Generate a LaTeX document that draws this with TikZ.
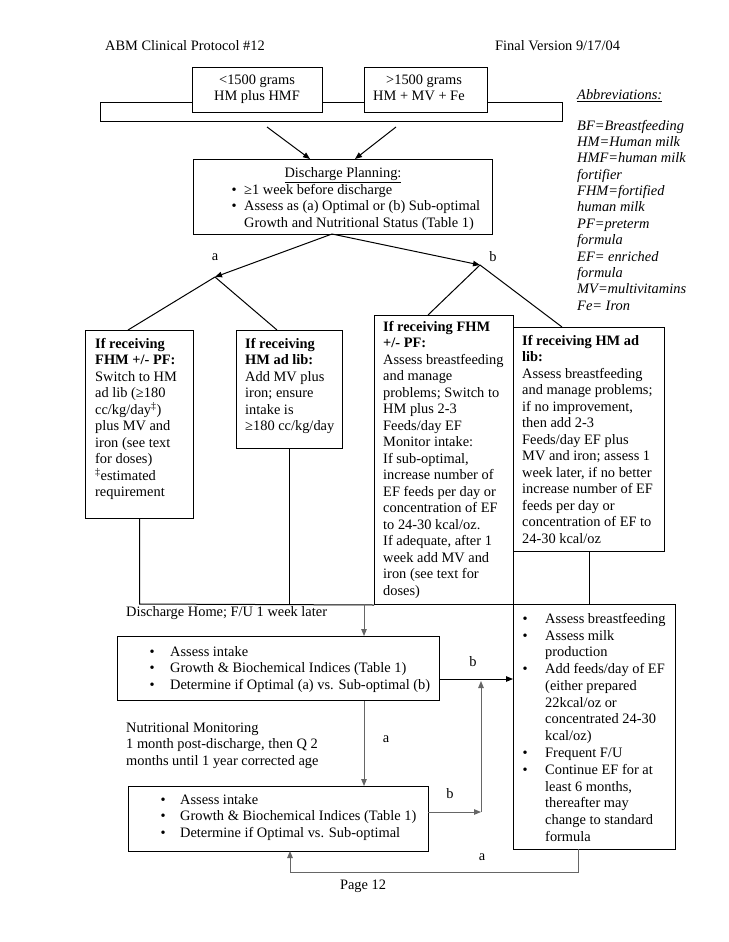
\documentclass[tikz,border=0pt]{standalone}
\usepackage{fontspec}
\setmainfont{Liberation Serif}
\usetikzlibrary{arrows.meta}
\newcommand{\fz}{\fontsize{14.4}{16.5}\selectfont}
\newcommand{\fr}{\rule{0pt}{10pt}}
\newcommand{\bul}[1]{\makebox[#1][l]{•}}
\tikzset{
  box/.style={draw, line width=1pt, fill=white, inner sep=0pt, anchor=north west},
  txt/.style={inner sep=0pt, anchor=north west, align=left, font=\fz},
  lbl/.style={inner sep=0pt, font=\fz},
  ln/.style={line width=1pt},
  arr/.style={-{Triangle[length=7pt,width=5.5pt]}, line width=1pt},
  garr/.style={arr, draw=black!60}
}
\begin{document}
\begin{tikzpicture}[x=1pt,y=-1pt]
\useasboundingbox (0,0) rectangle (728,942);
\fill[white] (0,0) rectangle (728,942);

% header
\node[txt] (h1) at (105,40) {\fr ABM Clinical Protocol \#12};
\node[txt] (h2) at (495,40) {\fr Final Version 9/17/04};

% top frame and weight boxes
\draw[ln] (100,102) rectangle (562,121);
\node[box, minimum width=130pt, minimum height=45pt] (w1) at (192,67) {};
\node[box, minimum width=123pt, minimum height=45pt] (w2) at (364,67) {};
\node[txt, anchor=north, align=center] (w1t) at (257,74) {\fr<1500 grams\\HM plus HMF};
\node[txt] (w2t) at (373,74) {\fr\hspace*{13pt}>1500 grams\\HM + MV + Fe};

% abbreviations
\node[txt, font=\fontsize{14.4}{16.36}\selectfont\itshape] (abb) at (577,89)
 {\fr\underline{Abbreviations:}\\[14.6pt]
  BF=Breastfeeding\\HM=Human milk\\HMF=human milk\\fortifier\\FHM=fortified\\human milk\\PF=preterm\\formula\\EF= enriched\\formula\\MV=multivitamins\\Fe= Iron};

% discharge planning
\coordinate (s1) at (267,127);
\coordinate (s2) at (396,127);
\node[box, minimum width=299pt, minimum height=75pt] (dp) at (193,159) {};
\coordinate (e1) at (310,159);
\coordinate (e2) at (355,159);
\draw[arr] (s1) -- (e1);
\draw[arr] (s2) -- (e2);
\node[lbl, anchor=base] (dpt) at (343,177.5) {\underline{Discharge Planning:}};
\node[txt] (dpb) at (231.5,184) {\fr\bul{12.5pt}≥1 week before discharge\\
  \bul{12.5pt}Assess as (a) Optimal or (b) Sub-optimal\\
  \hspace*{12.5pt}Growth and Nutritional Status (Table 1)};

% branches
\coordinate (dpo) at (332,234);
\coordinate (ta) at (215,277);
\coordinate (tb) at (480,265);
\draw[arr] (dpo) -- (ta);
\draw[arr] (dpo) -- (tb);
\node[lbl] (la) at (215,257) {a};
\node[lbl] (lb) at (493,257) {b};

% four option boxes
\node[box, minimum width=108pt, minimum height=188pt] (b1) at (85,330) {};
\node[box, minimum width=106pt, minimum height=118pt] (b2) at (236,330) {};
\node[box, minimum width=139pt, minimum height=289pt] (b3) at (374,315) {};
\node[box, minimum width=151pt, minimum height=224pt] (b4) at (513,327) {};
\coordinate (b1t) at (128,330);
\coordinate (b2t) at (277,330);
\coordinate (b3t) at (428,315);
\coordinate (b4t) at (562,327);
\draw[ln] (ta) -- (b1t);
\draw[ln] (ta) -- (b2t);
\draw[ln] (tb) -- (b3t);
\draw[ln] (tb) -- (b4t);

\node[txt] (b1x) at (95,338) {\fr\textbf{If receiving}\\\textbf{FHM +/- PF:}\\Switch to HM\\ad lib (≥180\\cc/kg/day\textsuperscript{‡})\\plus MV and\\iron (see text\\for doses)\\\textsuperscript{‡}estimated\\requirement};
\node[txt] (b2x) at (245,338) {\fr\textbf{If receiving}\\\textbf{HM ad lib:}\\Add MV plus\\iron; ensure\\intake is\\≥180 cc/kg/day};
\node[txt] (b3x) at (383,321) {\fr\textbf{If receiving FHM}\\\textbf{+/- PF:}\\Assess breastfeeding\\and manage\\problems; Switch to\\HM plus 2-3\\Feeds/day EF\\Monitor intake:\\If sub-optimal,\\increase number of\\EF feeds per day or\\concentration of EF\\to 24-30 kcal/oz.\\If adequate, after 1\\week add MV and\\iron (see text for\\doses)};
\node[txt] (b4x) at (522,335) {\fr\textbf{If receiving HM ad}\\\textbf{lib:}\\Assess breastfeeding\\and manage problems;\\if no improvement,\\then add 2-3\\Feeds/day EF plus\\MV and iron; assess 1\\week later, if no better\\increase number of EF\\feeds per day or\\concentration of EF to\\24-30 kcal/oz};

% right box
\node[box, minimum width=162pt, minimum height=245pt] (rb) at (513,604) {};
\node[txt, font=\fontsize{14.4}{16.77}\selectfont] (rbx) at (522.5,613) {\fr\bul{22.5pt}Assess breastfeeding\\
 \bul{22.5pt}Assess milk\\\hspace*{22.5pt}production\\
 \bul{22.5pt}Add feeds/day of EF\\\hspace*{22.5pt}(either prepared\\\hspace*{22.5pt}22kcal/oz or\\\hspace*{22.5pt}concentrated 24-30\\\hspace*{22.5pt}kcal/oz)\\
 \bul{22.5pt}Frequent F/U\\
 \bul{22.5pt}Continue EF for at\\\hspace*{22.5pt}least 6 months,\\\hspace*{22.5pt}thereafter may\\\hspace*{22.5pt}change to standard\\\hspace*{22.5pt}formula};

% collecting line
\coordinate (hl) at (139,604);
\draw[ln] (b1.south) -- (b1.south |- hl) -- (b3.south west);
\draw[ln] (b2.south) -- (b2.south |- hl);
\draw[ln] (b4.south) -- (b4.south |- rb.north);
\node[txt] (dh) at (126,606) {\fr Discharge Home; F/U 1 week later};

% follow-up 1 week
\node[box, minimum width=322pt, minimum height=64pt] (as1) at (117,636) {};
\coordinate (dm) at (364,604);
\draw[garr] (dm) -- (dm |- as1.north);
\node[txt] (as1x) at (149.5,646) {\fr\bul{20.5pt}Assess intake\\\bul{20.5pt}Growth \& Biochemical Indices (Table 1)\\\bul{20.5pt}Determine if Optimal (a) vs. Sub-optimal (b)};
\coordinate (bA) at (439,679);
\draw[arr] (bA) -- (bA -| rb.west);
\node[lbl] (lb2) at (473,662) {b};

% nutritional monitoring
\node[txt] (nm) at (126,722) {\fr Nutritional Monitoring\\1 month post-discharge, then Q 2\\months until 1 year corrected age};
\node[box, minimum width=300pt, minimum height=65pt] (as2) at (128,786) {};
\draw[garr] (as1.south -| dm) -- (as2.north -| dm);
\node[lbl] (la2) at (386,739) {a};
\node[txt] (as2x) at (160.5,794) {\fr\bul{19.5pt}Assess intake\\\bul{19.5pt}Growth \& Biochemical Indices (Table 1)\\\bul{19.5pt}Determine if Optimal vs. Sub-optimal};
\coordinate (bB) at (428,812);
\coordinate (cB) at (481,812);
\coordinate (cT) at (481,681);
\draw[garr] (bB) -- (cB);
\draw[garr] (cB) -- (cT);
\node[lbl] (lb3) at (450,794) {b};

% loop back a
\coordinate (rbo) at (578,849);
\coordinate (lp1) at (578,872);
\coordinate (lp2) at (290,872);
\coordinate (lp3) at (290,851);
\draw[garr] (rbo) -- (lp1) -- (lp2) -- (lp3);
\node[lbl] (la3) at (482,857) {a};

\node[lbl] (pg) at (363,886) {Page 12};
\end{tikzpicture}
\end{document}
